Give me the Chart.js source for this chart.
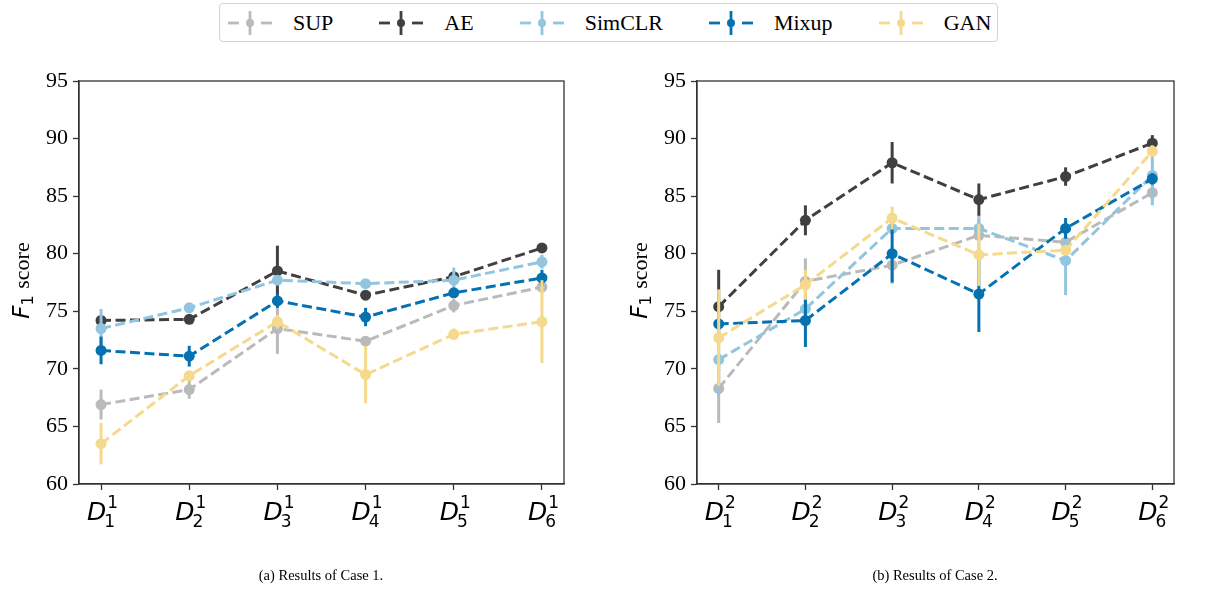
<!DOCTYPE html>
<html>
<head>
<meta charset="utf-8">
<script src="https://cdn.jsdelivr.net/npm/chart.js@4.4.0/dist/chart.umd.min.js"></script>
<style>
  body { margin: 0; background: #fff; width: 1218px; height: 592px; position: relative; overflow: hidden; font-family: "Liberation Serif", serif; }
  .panel { position: absolute; top: 0; height: 592px; }
  #legend { position: absolute; left: 219px; top: 3px; width: 779px; height: 39px; box-sizing: border-box;
            border: 1px solid #d4d4d4; border-radius: 4px; display: flex; align-items: center; padding-left: 8px; }
  .item { display: flex; align-items: center; margin-right: 46px; font-size: 22px; color: #000; }
  .item svg { margin-right: 21px; }
  .caption { position: absolute; top: 567px; width: 300px; font-size: 14.5px; text-align: center; }
</style>
</head>
<body>
<div id="legend"></div>
<div class="panel" style="left:0;width:600px"><canvas id="chart1"></canvas></div>
<div class="panel" style="left:609px;width:609px"><canvas id="chart2"></canvas></div>
<div class="caption" style="left:171px">(a) Results of Case 1.</div>
<div class="caption" style="left:785px">(b) Results of Case 2.</div>

<script>
// data
const methods = ['SUP', 'AE', 'SimCLR', 'Mixup', 'GAN']
const colors = ['#bababa', '#404040', '#92c5de', '#0571b0', '#f5d98c']
const subsets = [1, 2, 3, 4, 5, 6]
const yTicks = [60, 65, 70, 75, 80, 85, 90, 95]

// Case 1
const sup1 = [66.9, 68.2, 73.5, 72.4, 75.5, 77.1]
const supErr1 = [1.3, 0.8, 2.2, 0.3, 0.6, 0.4]
const ae1 = [74.2, 74.3, 78.5, 76.4, 78.0, 80.5]
const aeErr1 = [0.3, 0.3, 2.2, 0.3, 0.4, 0.2]
const simclr1 = [73.5, 75.3, 77.7, 77.4, 77.7, 79.3]
const simclrErr1 = [1.7, 0.3, 0.4, 0.3, 1.1, 0.6]
const mixup1 = [71.6, 71.1, 75.9, 74.5, 76.6, 77.9]
const mixupErr1 = [1.2, 0.9, 0.6, 0.8, 0.4, 0.7]
const gan1 = [63.5, 69.4, 74.1, 69.5, 73.0, 74.1]
const ganErr1 = [1.8, 0.3, 0.6, 2.5, 0.5, 3.6]

// Case 2
const sup2 = [68.3, 77.6, 79.0, 81.6, 81.0, 85.3]
const supErr2 = [3.0, 2.0, 1.6, 1.8, 0.3, 0.6]
const ae2 = [75.4, 82.9, 87.9, 84.7, 86.7, 89.6]
const aeErr2 = [3.2, 1.3, 1.8, 1.4, 0.8, 0.7]
const simclr2 = [70.8, 75.2, 82.2, 82.2, 79.4, 86.8]
const simclrErr2 = [3.1, 0.8, 0.5, 0.8, 3.0, 2.6]
const mixup2 = [73.9, 74.2, 80.0, 76.5, 82.2, 86.5]
const mixupErr2 = [0.3, 2.3, 2.5, 3.3, 0.9, 0.5]
const gan2 = [72.7, 77.3, 83.1, 79.9, 80.3, 88.9]
const ganErr2 = [4.2, 1.3, 1.0, 2.7, 0.4, 0.5]

const case1 = [[sup1, supErr1], [ae1, aeErr1], [simclr1, simclrErr1], [mixup1, mixupErr1], [gan1, ganErr1]]
const case2 = [[sup2, supErr2], [ae2, aeErr2], [simclr2, simclrErr2], [mixup2, mixupErr2], [gan2, ganErr2]]

// legend (html)
const legendEl = document.getElementById('legend')
methods.forEach((name, k) => {
  const c = colors[k]
  const item = document.createElement('div')
  item.className = 'item'
  item.innerHTML =
    `<svg width="44" height="28">` +
    `<line x1="0" y1="14" x2="11" y2="14" stroke="${c}" stroke-width="2.8"/>` +
    `<line x1="33" y1="14" x2="44" y2="14" stroke="${c}" stroke-width="2.8"/>` +
    `<line x1="22" y1="2" x2="22" y2="26" stroke="${c}" stroke-width="2.8"/>` +
    `<circle cx="22" cy="14" r="4" fill="${c}"/></svg><span>${name}</span>`
  legendEl.appendChild(item)
})

// error bars + frame + custom labels
const errorBarPlugin = {
  id: 'errorBars',
  beforeDatasetDraw(chart, args) {
    const ds = chart.data.datasets[args.index]
    if (!ds.errors) return
    const xs = chart.scales.x, ys = chart.scales.y
    const ctx = chart.ctx
    ctx.save()
    ctx.strokeStyle = ds.borderColor
    ctx.lineWidth = 3
    ds.data.forEach((p, i) => {
      const e = ds.errors[i]
      const x = xs.getPixelForValue(p.x)
      ctx.beginPath()
      ctx.moveTo(x, ys.getPixelForValue(p.y - e))
      ctx.lineTo(x, ys.getPixelForValue(p.y + e))
      ctx.stroke()
    })
    ctx.restore()
  },
  afterDraw(chart, args, opts) {
    const ctx = chart.ctx
    const a = chart.chartArea
    ctx.save()
    // top/right spines
    ctx.strokeStyle = '#333'
    ctx.lineWidth = 1.3
    ctx.strokeRect(a.left, a.top, a.right - a.left, a.bottom - a.top)

    // x tick labels D^case_i
    ctx.fillStyle = '#000'
    ctx.textBaseline = 'alphabetic'
    ctx.textAlign = 'left'
    subsets.forEach((s, i) => {
      const x = chart.scales.x.getPixelForValue(i) - 14
      const base = a.bottom + 36
      ctx.font = 'italic 25px "DejaVu Sans"'
      ctx.fillText('D', x, base)
      const w = ctx.measureText('D').width
      ctx.font = '17px "DejaVu Sans"'
      ctx.fillText(String(opts.caseId), x + w + 1, base - 12)
      ctx.fillText(String(s), x + w - 2, base + 7)
    })

    // y title F_1 score
    const cx = a.left - 56
    const cy = (a.top + a.bottom) / 2 - 2
    ctx.translate(cx, cy)
    ctx.rotate(-Math.PI / 2)
    ctx.textBaseline = 'middle'
    ctx.font = 'italic 23px "DejaVu Sans"'
    const wF = ctx.measureText('F').width
    ctx.font = '16px "DejaVu Sans"'
    const w1 = ctx.measureText('1').width
    ctx.font = '22px "Liberation Serif"'
    const wS = ctx.measureText(' score').width
    let x0 = -(wF + w1 + 1 + wS) / 2
    ctx.font = 'italic 23px "DejaVu Sans"'
    ctx.fillText('F', x0, 0)
    ctx.font = '16px "DejaVu Sans"'
    ctx.fillText('1', x0 + wF, 6)
    ctx.font = '22px "Liberation Serif"'
    ctx.fillText(' score', x0 + wF + w1 + 1, 0)
    ctx.restore()
  }
}

function makeChart(id, series, caseId, yAxisWidth, padRight) {
  const datasets = series.map(([vals, errs], k) => ({
    label: methods[k],
    data: vals.map((v, i) => ({ x: i, y: v })),
    errors: errs,
    borderColor: colors[k],
    backgroundColor: colors[k],
    borderWidth: 3,
    borderDash: [10, 4.5],
    pointRadius: 5.5,
    pointBorderWidth: 0,
    pointHoverRadius: 5.5,
    tension: 0,
    order: methods.length - k
  }))
  return new Chart(document.getElementById(id), {
    type: 'line',
    data: { datasets },
    plugins: [errorBarPlugin],
    options: {
      responsive: true,
      maintainAspectRatio: false,
      animation: false,
      events: [],
      layout: { padding: { left: 0, top: 81, right: padRight, bottom: 98 } },
      plugins: {
        legend: { display: false },
        tooltip: { enabled: false },
        errorBars: { caseId: caseId }
      },
      scales: {
        x: {
          type: 'linear',
          min: -0.25,
          max: subsets.length - 0.75,
          afterBuildTicks: (scale) => { scale.ticks = subsets.map((s, i) => ({ value: i })) },
          afterFit: (scale) => { scale.height = 10 },
          ticks: { callback: () => '', padding: 0 },
          grid: { drawOnChartArea: false, drawTicks: true, tickLength: 6, tickColor: '#333', tickWidth: 1.3 },
          border: { display: true, color: '#333', width: 1.3 }
        },
        y: {
          min: 60,
          max: 95,
          afterBuildTicks: (scale) => { scale.ticks = yTicks.map(v => ({ value: v })) },
          afterFit: (scale) => { scale.width = yAxisWidth },
          ticks: { color: '#000', padding: 5, font: { family: 'Liberation Serif', size: 22 } },
          grid: { drawOnChartArea: false, drawTicks: true, tickLength: 6, tickColor: '#333', tickWidth: 1.3 },
          border: { display: true, color: '#333', width: 1.3 }
        }
      }
    }
  })
}

makeChart('chart1', case1, 1, 79, 36)
makeChart('chart2', case2, 2, 88, 44)
</script>
</body>
</html>
